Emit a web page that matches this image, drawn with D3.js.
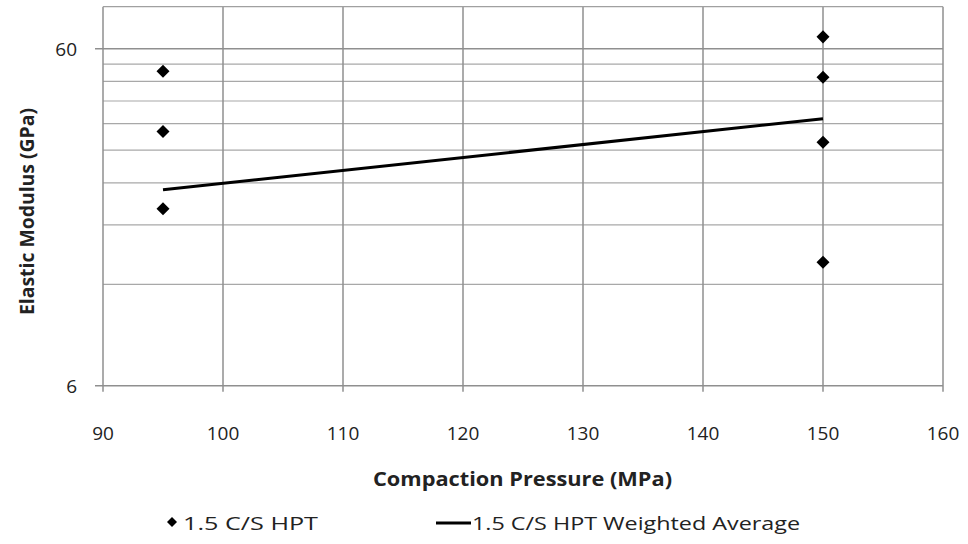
<!DOCTYPE html>
<html><head><meta charset="utf-8">
<script src="https://cdn.jsdelivr.net/npm/d3@7"></script>
<style>body{margin:0;background:#fff}svg{display:block}text{font-family:"Open Sans",sans-serif;fill:#222}</style>
</head><body><svg id="c" width="968" height="544"></svg>
<script>
const xTicks = [90,100,110,120,130,140,150,160];
const yMajorTicks = [6,60];
const yMinorTicks = [12,18,24,30,36,42,48,54];
const pointX = [95,95,95,150,150,150,150];
const pointY = [51.5,34.1,20.1,65.1,49.4,31.7,13.95];
const avgX = [95,150];
const avgY = [22.9,37.2];
const seriesNames = ["1.5 C/S HPT","1.5 C/S HPT Weighted Average"];

const svg = d3.select("#c");
const L=103, R=943, T=6.7, B=385.7;
const x = d3.scaleLinear().domain([90,160]).range([L,R]);
const y = d3.scaleLog().domain([6,80]).range([B,T]);

const g = svg.append("g");
g.selectAll(".mn").data(yMinorTicks).enter().append("line")
 .attr("x1",L).attr("x2",R).attr("y1",d=>y(d)).attr("y2",d=>y(d))
 .attr("stroke","#a8a8a8").attr("stroke-width",1.2);
g.selectAll(".mj").data(yMajorTicks).enter().append("line")
 .attr("x1",L-8).attr("x2",R).attr("y1",d=>y(d)).attr("y2",d=>y(d))
 .attr("stroke","#8f8f8f").attr("stroke-width",1.5);
g.selectAll(".vx").data(xTicks).enter().append("line")
 .attr("x1",d=>x(d)).attr("x2",d=>x(d)).attr("y1",T).attr("y2",B+6)
 .attr("stroke","#8f8f8f").attr("stroke-width",1.5);
g.append("line").attr("x1",L).attr("x2",R).attr("y1",T).attr("y2",T).attr("stroke","#a0a0a0").attr("stroke-width",1.2);

svg.append("g").selectAll("text").data(xTicks).enter().append("text")
 .attr("x",d=>x(d)).attr("y",440).attr("text-anchor","middle").attr("font-size",19).text(d=>d);
svg.append("g").selectAll("text").data(yMajorTicks).enter().append("text")
 .attr("x",77).attr("y",d=>y(d)+7).attr("text-anchor","end").attr("font-size",19).text(d=>d);

svg.append("text").attr("x",373).attr("y",486)
 .attr("font-size",20).attr("font-weight","bold").attr("textLength",299).attr("lengthAdjust","spacingAndGlyphs")
 .text("Compaction Pressure (MPa)");
svg.append("text").attr("transform","translate(34,315) rotate(-90)")
 .attr("font-size",19).attr("font-weight","bold").attr("textLength",207).attr("lengthAdjust","spacingAndGlyphs")
 .text("Elastic Modulus (GPa)");

const avg = avgX.map((v,i)=>[v,avgY[i]]);
svg.append("path").datum(avg).attr("fill","none").attr("stroke","#000").attr("stroke-width",3)
 .attr("d",d3.line().x(d=>x(d[0])).y(d=>y(d[1])));

const pts = pointX.map((v,i)=>[v,pointY[i]]);
const sym = d3.symbol(d3.symbolSquare,85);
svg.selectAll(".pt").data(pts).enter().append("path")
 .attr("d",sym).attr("fill","#000")
 .attr("transform",d=>`translate(${x(d[0])},${y(d[1])}) rotate(45)`);

svg.append("path").attr("d",d3.symbol(d3.symbolSquare,50)).attr("fill","#000")
 .attr("transform","translate(172,522) rotate(45)");
svg.append("text").attr("x",183).attr("y",530).attr("font-size",19)
 .attr("textLength",135).attr("lengthAdjust","spacingAndGlyphs").text(seriesNames[0]);
svg.append("line").attr("x1",436).attr("x2",471).attr("y1",523).attr("y2",523).attr("stroke","#000").attr("stroke-width",3);
svg.append("text").attr("x",472).attr("y",530).attr("font-size",19)
 .attr("textLength",328).attr("lengthAdjust","spacingAndGlyphs").text(seriesNames[1]);
</script></body></html>
